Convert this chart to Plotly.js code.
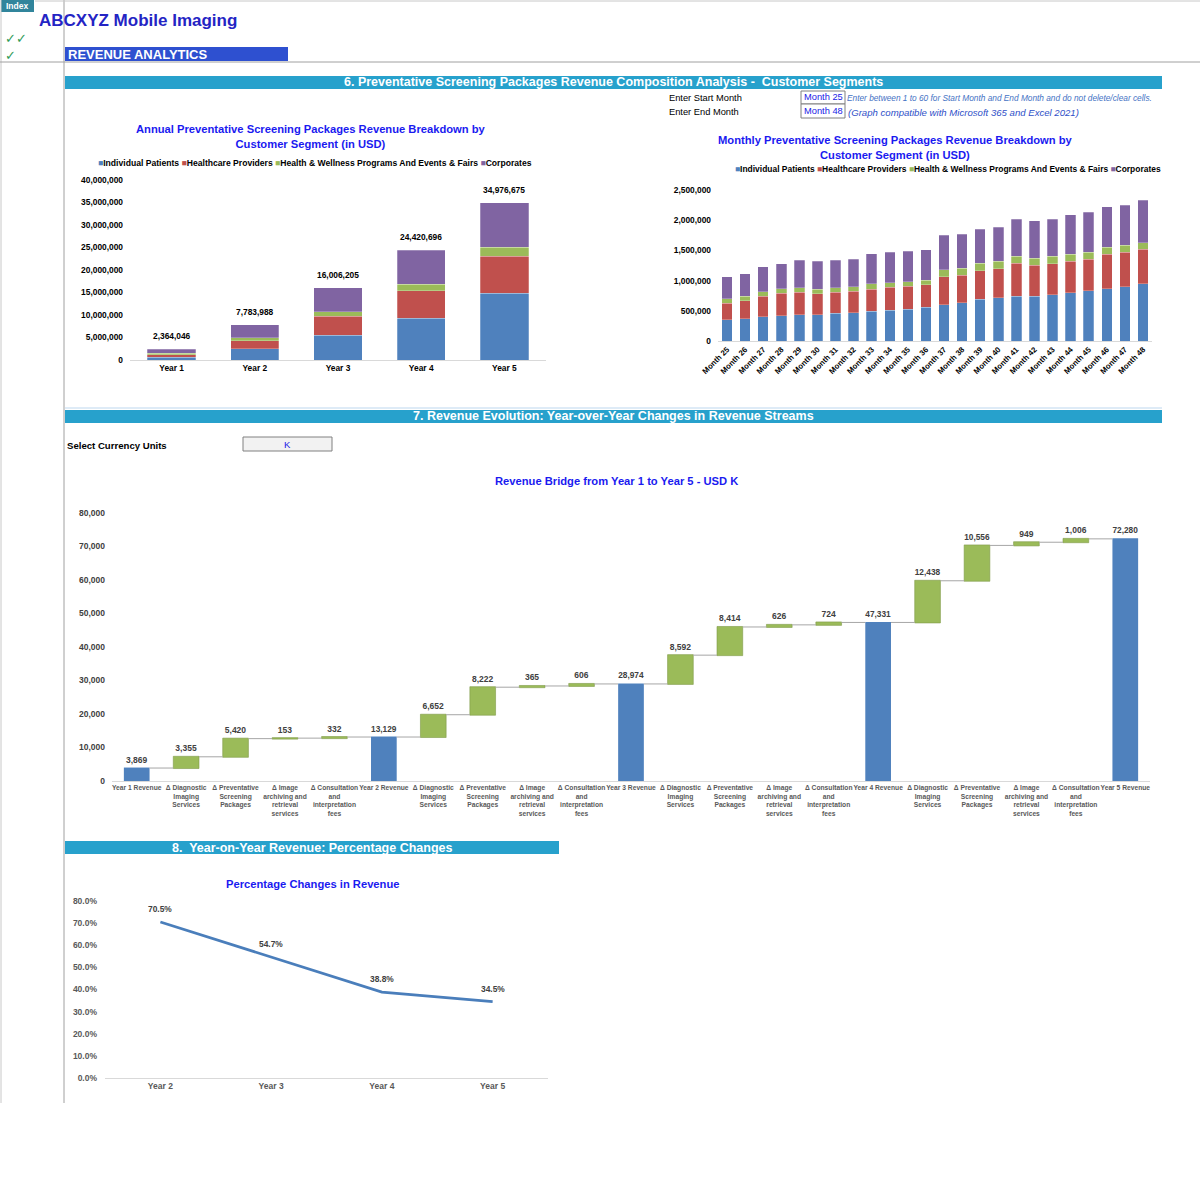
<!DOCTYPE html>
<html>
<head>
<meta charset="utf-8">
<script src="https://cdn.plot.ly/plotly-3.0.1.min.js"></script>
<style>html,body{margin:0;padding:0;background:#fff;}#chart{width:1200px;height:1200px;}</style>
</head>
<body>
<div id="chart"></div>
<script>
// ---------- DATA ----------
const years = ['Year 1', 'Year 2', 'Year 3', 'Year 4', 'Year 5'];
const segNames = ['Individual Patients', 'Healthcare Providers', 'Health & Wellness Programs And Events & Fairs', 'Corporates'];
const segColors = ['#4F81BD', '#C0504D', '#9BBB59', '#8064A2'];

const annualIndividual = [620000, 2450000, 5480000, 9260000, 14800000];
const annualHealthcare = [590000, 1850000, 4230000, 6140000, 8300000];
const annualWellness = [240000, 600000, 970000, 1420000, 2000000];
const annualCorporates = [914046, 2883988, 5326205, 7600696, 9876675];

const months = ['Month 25', 'Month 26', 'Month 27', 'Month 28', 'Month 29', 'Month 30', 'Month 31', 'Month 32',
  'Month 33', 'Month 34', 'Month 35', 'Month 36', 'Month 37', 'Month 38', 'Month 39', 'Month 40',
  'Month 41', 'Month 42', 'Month 43', 'Month 44', 'Month 45', 'Month 46', 'Month 47', 'Month 48'];
const monthIndividual = [356000, 372000, 400000, 422000, 433000, 433000, 456000, 467000, 489000, 511000, 528000, 556000,
  600000, 633000, 694000, 717000, 744000, 744000, 767000, 800000, 833000, 867000, 900000, 944000];
const monthHealthcare = [272000, 295000, 339000, 367000, 373000, 350000, 350000, 355000, 372000, 378000, 378000, 377000,
  461000, 456000, 467000, 477000, 545000, 512000, 516000, 517000, 517000, 572000, 572000, 573000];
const monthWellness = [72000, 77000, 78000, 78000, 77000, 73000, 72000, 78000, 83000, 78000, 77000, 73000,
  122000, 117000, 128000, 123000, 117000, 116000, 117000, 116000, 117000, 117000, 117000, 111000];
const monthCorporates = [367000, 367000, 411000, 416000, 456000, 466000, 461000, 456000, 500000, 505000, 506000, 505000,
  564000, 565000, 560000, 565000, 609000, 615000, 615000, 658000, 664000, 663000, 658000, 706000];

const wfLabels = [
  'Year 1 Revenue', 'Δ Diagnostic<br>Imaging<br>Services', 'Δ Preventative<br>Screening<br>Packages', 'Δ Image<br>archiving and<br>retrieval<br>services', 'Δ Consultation<br>and<br>interpretation<br>fees',
  'Year 2 Revenue', 'Δ Diagnostic<br>Imaging<br>Services', 'Δ Preventative<br>Screening<br>Packages', 'Δ Image<br>archiving and<br>retrieval<br>services', 'Δ Consultation<br>and<br>interpretation<br>fees',
  'Year 3 Revenue', 'Δ Diagnostic<br>Imaging<br>Services', 'Δ Preventative<br>Screening<br>Packages', 'Δ Image<br>archiving and<br>retrieval<br>services', 'Δ Consultation<br>and<br>interpretation<br>fees',
  'Year 4 Revenue', 'Δ Diagnostic<br>Imaging<br>Services', 'Δ Preventative<br>Screening<br>Packages', 'Δ Image<br>archiving and<br>retrieval<br>services', 'Δ Consultation<br>and<br>interpretation<br>fees',
  'Year 5 Revenue'];
const wfValues = [3869, 3355, 5420, 153, 332, 13129, 6652, 8222, 365, 606, 28974, 8592, 8414, 626, 724, 47331, 12438, 10556, 949, 1006, 72280];
const wfMeasures = ['absolute', 'relative', 'relative', 'relative', 'relative',
  'absolute', 'relative', 'relative', 'relative', 'relative',
  'absolute', 'relative', 'relative', 'relative', 'relative',
  'absolute', 'relative', 'relative', 'relative', 'relative',
  'absolute'];

const pctYears = ['Year 2', 'Year 3', 'Year 4', 'Year 5'];
const pctChanges = [0.705, 0.547, 0.388, 0.345];

// ---------- HELPERS ----------
const W = 1200;
const X = x => x / W;
const Y = y => 1 - y / W;
const FONT = 'Arial, "Liberation Sans", sans-serif';
const fmt = v => v.toLocaleString('en-US');

const annualSeries = [annualIndividual, annualHealthcare, annualWellness, annualCorporates];
const monthSeries = [monthIndividual, monthHealthcare, monthWellness, monthCorporates];
const annualTotals = years.map((_, i) => annualSeries.reduce((s, a) => s + a[i], 0));

const traces = [];
annualSeries.forEach((vals, k) => {
  traces.push({type: 'bar', name: segNames[k], x: years, y: vals, xaxis: 'x', yaxis: 'y',
    marker: {color: segColors[k], line: {color: 'rgba(255,255,255,0.5)', width: 0.5}}, showlegend: false, hoverinfo: 'skip'});
});

monthSeries.forEach((vals, k) => {
  traces.push({type: 'bar', name: segNames[k], x: months, y: vals, xaxis: 'x2', yaxis: 'y2',
    marker: {color: segColors[k], line: {color: 'rgba(255,255,255,0.5)', width: 0.5}}, showlegend: false, hoverinfo: 'skip'});
});

const wfIdx = wfValues.map((_, i) => i);
traces.push({type: 'waterfall', x: wfIdx, y: wfValues, measure: wfMeasures, xaxis: 'x3', yaxis: 'y3',
  text: wfValues.map(fmt), textinfo: 'text', textposition: 'outside',
  outsidetextfont: {family: FONT, size: 8.5, color: '#404040', weight: 'bold'},
  textfont: {family: FONT, size: 8.5, color: '#404040', weight: 'bold'},
  increasing: {marker: {color: '#9BBB59', line: {color: '#7F9A48', width: 0.6}}},
  decreasing: {marker: {color: '#C0504D'}},
  totals: {marker: {color: '#4F81BD', line: {color: '#4F81BD', width: 0}}},
  connector: {line: {color: '#A6A6A6', width: 1}, mode: 'between'},
  cliponaxis: false, showlegend: false, hoverinfo: 'skip'});

traces.push({type: 'scatter', mode: 'lines', x: pctYears, y: pctChanges, xaxis: 'x4', yaxis: 'y4',
  line: {color: '#4A7EBB', width: 2.75}, cliponaxis: false, showlegend: false, hoverinfo: 'skip'});

// ---------- DECORATION ----------
const shapes = [];
const line = (x0, y0, x1, y1, color, w) => shapes.push({type: 'line', xref: 'paper', yref: 'paper',
  x0: X(x0), y0: Y(y0), x1: X(x1), y1: Y(y1), line: {color: color, width: w || 1}});
const rect = (x0, y0, x1, y1, fill, border) => shapes.push({type: 'rect', xref: 'paper', yref: 'paper',
  x0: X(x0), y0: Y(y0), x1: X(x1), y1: Y(y1), fillcolor: fill, line: {color: border || fill, width: border ? 1 : 0}, layer: 'below'});

line(1, 0, 1, 1103, '#C8C8C8');
line(64, 0, 64, 1103, '#A0A0A0');
line(35, 1, 1200, 1, '#C8C8C8');
line(0, 62, 1200, 62, '#A0A0A0');
rect(1, 0, 34, 12, '#31859C');
rect(65, 47, 288, 61, '#2E50D0');
rect(65, 76, 1162, 89, '#27A1CC');
line(65, 408, 1162, 408, '#BDD7EE');
rect(65, 410, 1162, 423, '#27A1CC');
rect(65, 841, 559, 854, '#27A1CC');
rect(801, 91, 845, 104, '#FFFFFF', '#808080');
rect(801, 104, 845, 118, '#FFFFFF', '#808080');
rect(243, 437, 332, 451, '#F2F2F2', '#808080');

const annotations = [];
const txt = (text, x, y, opts) => annotations.push(Object.assign({xref: 'paper', yref: 'paper', x: X(x), y: Y(y),
  text: text, showarrow: false, xanchor: 'left', yanchor: 'middle',
  font: {family: FONT, size: 9, color: '#000'}}, opts || {}));

txt('Index', 17, 6, {xanchor: 'center', font: {family: FONT, size: 8.5, color: '#fff', weight: 'bold'}});
txt('ABCXYZ Mobile Imaging', 37, 21, {font: {family: FONT, size: 17, color: '#2424C4', weight: 'bold'}});
txt('✓✓<br>✓', 3, 47, {align: 'left', font: {family: 'DejaVu Sans', size: 13, color: '#2E9B57'}});
txt('REVENUE ANALYTICS', 66, 54, {font: {family: FONT, size: 13, color: '#fff', weight: 'bold'}});
txt('6. Preventative Screening Packages Revenue Composition Analysis -  Customer Segments', 613, 82.5,
  {xanchor: 'center', font: {family: FONT, size: 12.5, color: '#fff', weight: 'bold'}});
txt('Enter Start Month', 667, 98, {font: {family: FONT, size: 9.3, color: '#000'}});
txt('Enter End Month', 667, 112, {font: {family: FONT, size: 9.3, color: '#000'}});
txt('Month 25', 823, 97, {xanchor: 'center', font: {family: FONT, size: 9.3, color: '#1A1AE6'}});
txt('Month 48', 823, 111, {xanchor: 'center', font: {family: FONT, size: 9.3, color: '#1A1AE6'}});
txt('<i>Enter between 1 to 60 for Start Month and End Month and do not delete/clear cells.</i>', 845, 98,
  {font: {family: FONT, size: 8.3, color: '#4472C4'}});
txt('<i>(Graph compatible with Microsoft 365 and Excel 2021)</i>', 846, 112,
  {font: {family: FONT, size: 9.6, color: '#2E4FC8'}});

txt('Annual Preventative Screening Packages Revenue Breakdown by<br>Customer Segment (in USD)', 311, 136.5,
  {xanchor: 'center', font: {family: FONT, size: 11.2, color: '#1A1AF0', weight: 'bold'}});
txt('Monthly Preventative Screening Packages Revenue Breakdown by<br>Customer Segment (in USD)', 895, 147.5,
  {xanchor: 'center', font: {family: FONT, size: 11.2, color: '#1A1AF0', weight: 'bold'}});
const legendText = segNames.map((n, i) => `<span style="color:${segColors[i]}">■</span>${n}`).join(' ');
txt(legendText, 96, 163, {font: {family: FONT, size: 8.6, color: '#000', weight: 'bold'}});
txt(legendText, 733, 169, {font: {family: FONT, size: 8.45, color: '#000', weight: 'bold'}});

txt('7. Revenue Evolution: Year-over-Year Changes in Revenue Streams', 613, 416,
  {xanchor: 'center', font: {family: FONT, size: 12.5, color: '#fff', weight: 'bold'}});
txt('Select Currency Units', 65, 445, {font: {family: FONT, size: 9.6, color: '#000', weight: 'bold'}});
txt('K', 287.5, 444, {xanchor: 'center', font: {family: FONT, size: 9.5, color: '#1A1AE6'}});
txt('Revenue Bridge from Year 1 to Year 5 - USD K', 616, 481,
  {xanchor: 'center', font: {family: FONT, size: 11.2, color: '#1A1AF0', weight: 'bold'}});

txt('8.  Year-on-Year Revenue: Percentage Changes', 312, 847.5,
  {xanchor: 'center', font: {family: FONT, size: 12.5, color: '#fff', weight: 'bold'}});
txt('Percentage Changes in Revenue', 313, 884,
  {xanchor: 'center', font: {family: FONT, size: 11.2, color: '#1A1AF0', weight: 'bold'}});

// data labels tied to the axes
years.forEach((yr, i) => annotations.push({xref: 'x', yref: 'y', x: yr, y: annualTotals[i], text: fmt(annualTotals[i]),
  showarrow: false, xanchor: 'center', yanchor: 'bottom', yshift: 6,
  font: {family: FONT, size: 8.4, color: '#000', weight: 'bold'}}));
pctYears.forEach((yr, i) => annotations.push({xref: 'x4', yref: 'y4', x: yr, y: pctChanges[i],
  text: (pctChanges[i] * 100).toFixed(1) + '%', showarrow: false, xanchor: 'center', yanchor: 'bottom', yshift: 6,
  font: {family: FONT, size: 8.4, color: '#404040', weight: 'bold'}}));

// ---------- AXES ----------
const tickBold = (size, color) => ({family: FONT, size: size, color: color, weight: 'bold'});
const baseX = {showgrid: false, zeroline: false, showline: true, linecolor: '#D9D9D9', linewidth: 1, ticks: '', fixedrange: true};
const baseY = {showgrid: false, zeroline: false, showline: false, ticks: '', fixedrange: true};

const layout = {
  width: 1200, height: 1200, margin: {l: 0, r: 0, t: 0, b: 0},
  paper_bgcolor: '#fff', plot_bgcolor: 'rgba(0,0,0,0)',
  barmode: 'stack', bargap: 0.42, waterfallgap: 0.48, showlegend: false,
  font: {family: FONT},
  xaxis: Object.assign({}, baseX, {domain: [X(130), X(546)], anchor: 'y', type: 'category', tickangle: 0,
    tickfont: tickBold(8.4, '#000')}),
  yaxis: Object.assign({}, baseY, {domain: [Y(360), Y(180)], anchor: 'x', range: [0, 40000000], dtick: 5000000,
    tickformat: ',', tickfont: tickBold(8.4, '#000'), ticklabelstandoff: 6}),
  xaxis2: Object.assign({}, baseX, {domain: [X(718), X(1152)], anchor: 'y2', type: 'category', tickangle: -45,
    tickfont: tickBold(7.8, '#000')}),
  yaxis2: Object.assign({}, baseY, {domain: [Y(341), Y(190)], anchor: 'x2', range: [0, 2500000], dtick: 500000,
    tickformat: ',', tickfont: tickBold(8.4, '#000'), ticklabelstandoff: 6}),
  xaxis3: Object.assign({}, baseX, {domain: [X(112), X(1150)], anchor: 'y3', range: [-0.5, wfValues.length - 0.5],
    tickmode: 'array', tickvals: wfIdx, ticktext: wfLabels, tickangle: 0, tickfont: tickBold(6.7, '#595959')}),
  yaxis3: Object.assign({}, baseY, {domain: [Y(781), Y(513)], anchor: 'x3', range: [0, 80000], dtick: 10000,
    tickformat: ',', tickfont: tickBold(8.5, '#404040'), ticklabelstandoff: 6}),
  xaxis4: Object.assign({}, baseX, {domain: [X(105), X(548)], anchor: 'y4', type: 'category', range: [-0.5, 3.5],
    tickangle: 0, tickfont: tickBold(8.5, '#595959')}),
  yaxis4: Object.assign({}, baseY, {domain: [Y(1078), Y(901)], anchor: 'x4', range: [0, 0.8], dtick: 0.1,
    tickformat: '.1%', tickfont: tickBold(8.5, '#595959'), ticklabelstandoff: 7}),
  shapes: shapes,
  annotations: annotations
};

Plotly.newPlot('chart', traces, layout, {staticPlot: true, displayModeBar: false});
</script>
</body>
</html>
